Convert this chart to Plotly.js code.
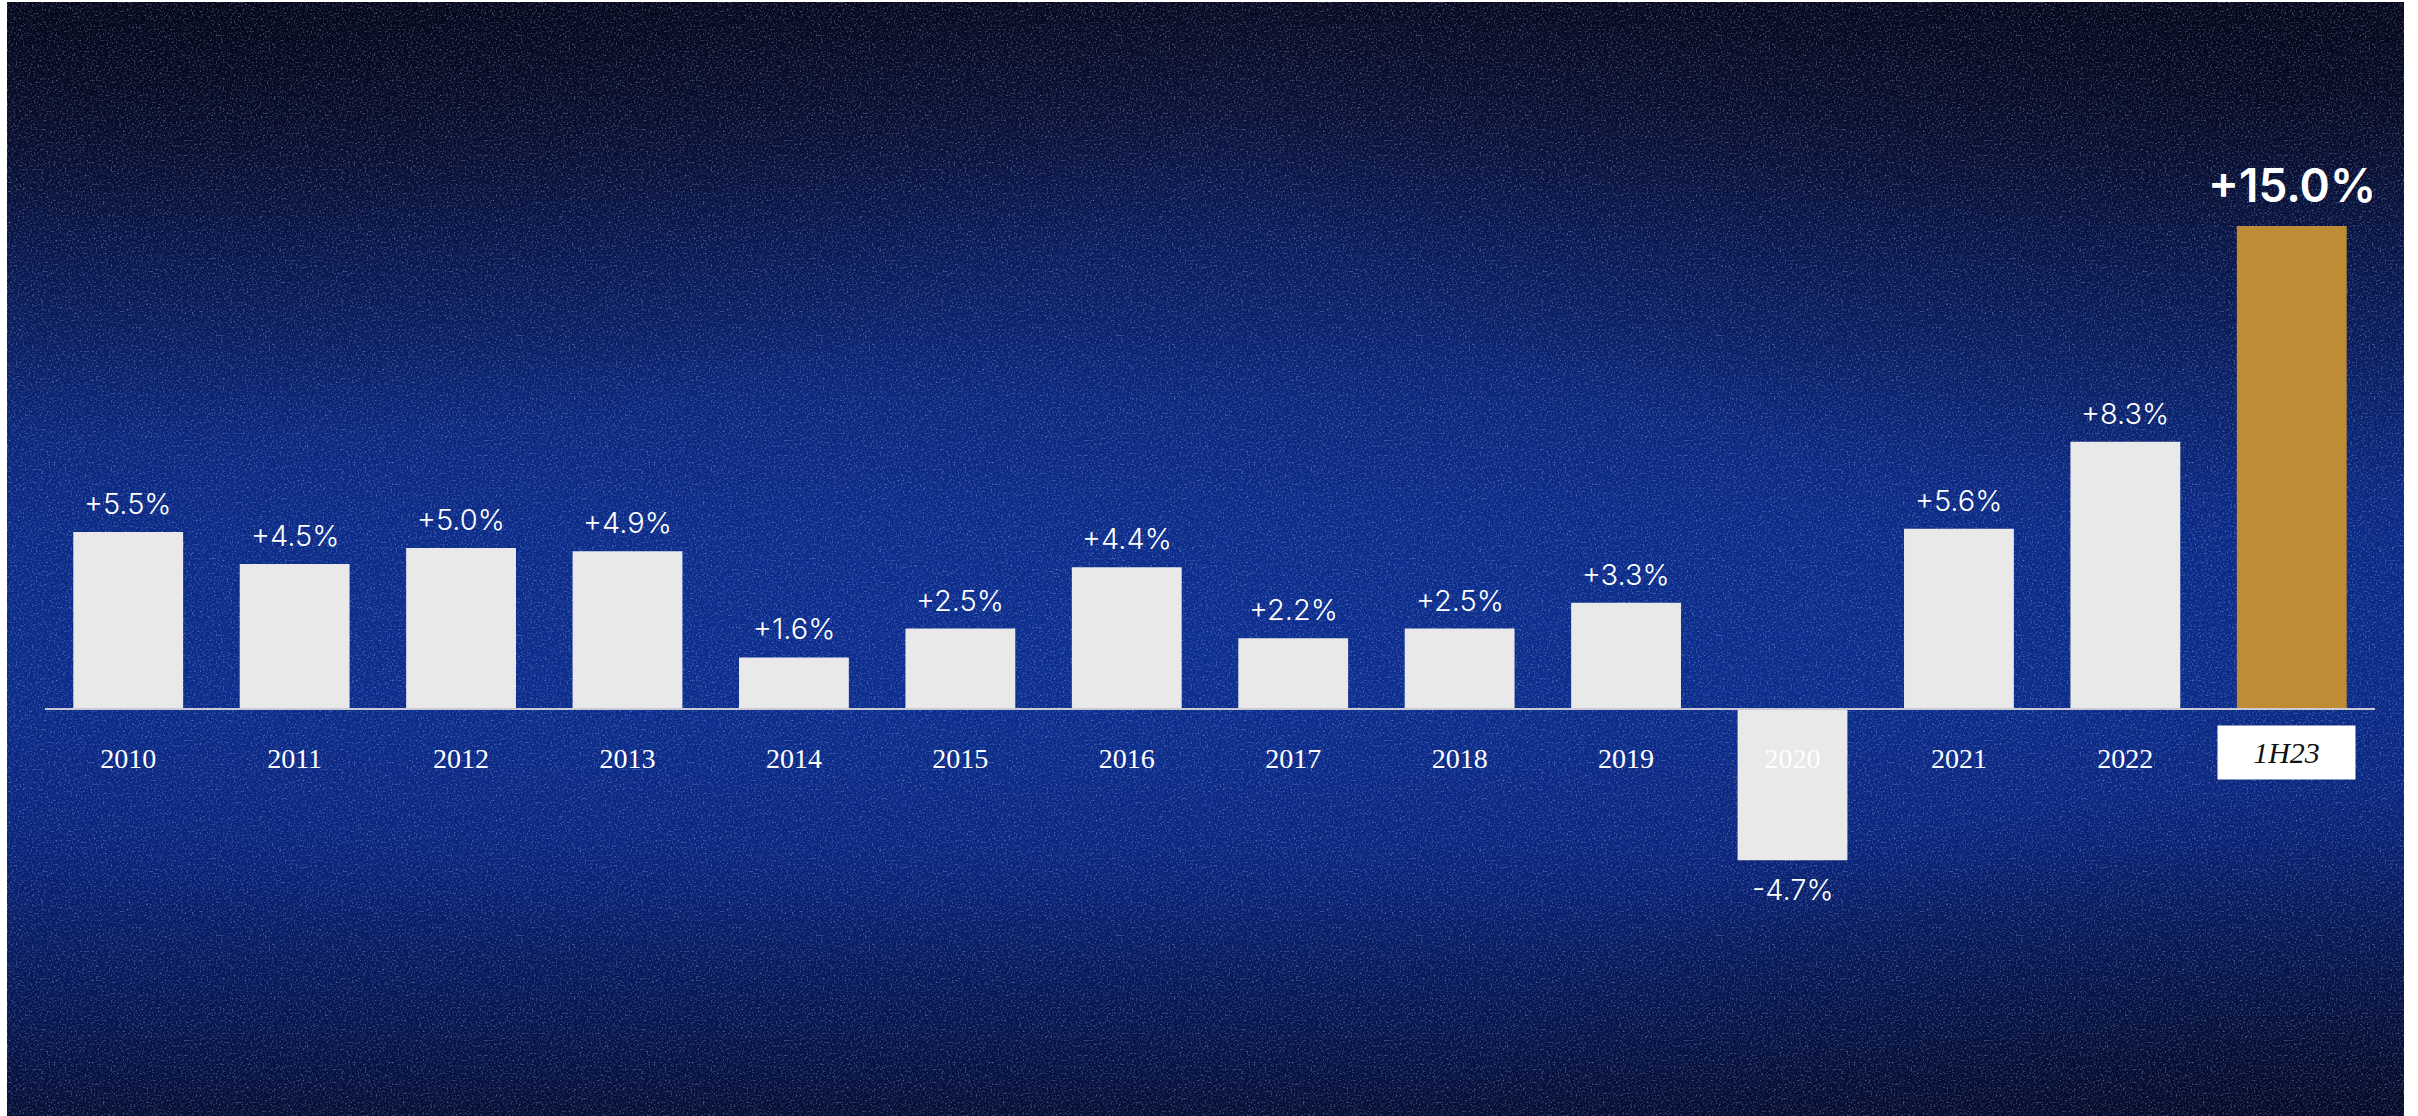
<!DOCTYPE html>
<html>
<head>
<meta charset="utf-8">
<script src="https://cdn.plot.ly/plotly-3.0.1.min.js"></script>
<style>
  html, body { margin: 0; padding: 0; background: #ffffff; width: 2418px; height: 1116px; overflow: hidden; }
  #bg {
    position: absolute; left: 7px; top: 2px; width: 2397px; height: 1114px;
    background:
      radial-gradient(ellipse 60% 30% at 45% 58%, rgba(14,50,150,0.55) 0%, rgba(12,46,140,0.0) 100%),
      linear-gradient(180deg, #080b22 0%, #0a1238 10%, #0b1d5e 22%, #0c2676 34%, #0b2a85 48%, #0b2b88 62%, #0a2479 76%, #081a5a 88%, #060f36 100%);
  }
  #bg::after {
    content: ""; position: absolute; inset: 0;
    background:
      radial-gradient(ellipse 45% 40% at 8% 0%, rgba(4,6,20,0.6) 0%, rgba(4,6,20,0) 100%),
      radial-gradient(ellipse 45% 40% at 95% 5%, rgba(4,6,20,0.55) 0%, rgba(4,6,20,0) 100%),
      radial-gradient(ellipse 40% 30% at 100% 100%, rgba(4,6,20,0.45) 0%, rgba(4,6,20,0) 100%);
  }
  #noise {
    position: absolute; left: 7px; top: 2px; width: 2397px; height: 1114px; opacity: 0.45;
    background-image: url("data:image/svg+xml;utf8,<svg xmlns='http://www.w3.org/2000/svg' width='300' height='300'><filter id='n'><feTurbulence type='fractalNoise' baseFrequency='0.55' numOctaves='3' stitchTiles='stitch'/><feColorMatrix values='0 0 0 0 0.5  0 0 0 0 0.6  0 0 0 0 1  2.6 0 0 0 -1.35'/></filter><rect width='100%' height='100%' filter='url(%23n)'/></svg>");
  }
  #chart { position: absolute; left: 0; top: 0; width: 2418px; height: 1116px; }
</style>
</head>
<body>
<div id="bg"></div>
<div id="noise"></div>
<div id="chart"></div>
<script>
// ---- data ----
const categories = ['2010','2011','2012','2013','2014','2015','2016','2017','2018','2019','2020','2021','2022','1H23'];
const growthPct  = [5.5, 4.5, 5.0, 4.9, 1.6, 2.5, 4.4, 2.2, 2.5, 3.3, -4.7, 5.6, 8.3, 15.0];
const valueLabels = ['+5.5%','+4.5%','+5.0%','+4.9%','+1.6%','+2.5%','+4.4%','+2.2%','+2.5%','+3.3%','-4.7%','+5.6%','+8.3%','+15.0%'];
const highlightCategory = '1H23';

// ---- styles ----
const barColors = categories.map(c => c === highlightCategory ? '#be8c34' : '#e9e9ea');

const bars = {
  type: 'bar',
  x: categories,
  y: growthPct,
  marker: { color: barColors, line: { width: 0 } },
  hoverinfo: 'skip'
};

// annotations use the category index (numeric-looking category strings would be read as indices)
const annotations = categories.map((c, i) => {
  const v = growthPct[i];
  const isHi = c === highlightCategory;
  return {
    x: i, y: v, xref: 'x', yref: 'y',
    text: valueLabels[i],
    showarrow: false,
    yanchor: v >= 0 ? 'bottom' : 'top',
    yshift: v >= 0 ? (isHi ? 11 : 9) : -10,
    font: isHi
      ? { family: 'Inter, Lato, sans-serif', size: 46, color: '#ffffff', weight: 600 }
      : { family: 'Inter, Lato, sans-serif', size: 29, color: '#ffffff', weight: 300 }
  };
});

// highlighted category label box
annotations.push({
  x: categories.indexOf(highlightCategory), y: 0, xref: 'x', yref: 'y',
  text: highlightCategory,
  showarrow: false,
  yanchor: 'middle', xanchor: 'center',
  yshift: -43, xshift: -5,
  width: 137, height: 53,
  bgcolor: '#ffffff', borderpad: 0,
  font: { family: 'Liberation Serif, DejaVu Serif, serif', size: 30, color: '#111111', style: 'italic' }
});

const layout = {
  width: 2418, height: 1116,
  margin: { l: 45, r: 43, t: 65, b: 85 },
  paper_bgcolor: 'rgba(0,0,0,0)',
  plot_bgcolor: 'rgba(0,0,0,0)',
  showlegend: false,
  bargap: 0.34,
  xaxis: {
    type: 'category',
    range: [-0.5, 13.5],
    anchor: 'free', position: 1/3,
    showline: true, linecolor: '#c8cbd6', linewidth: 2,
    ticks: '', showgrid: false, zeroline: false,
    tickmode: 'array',
    tickvals: categories,
    ticktext: categories.map(c => c === highlightCategory ? '' : c),
    ticklabelstandoff: 24,
    tickfont: { family: 'Liberation Serif, DejaVu Serif, serif', size: 28, color: '#ffffff' },
    fixedrange: true
  },
  yaxis: {
    range: [-10, 20],
    domain: [0, 1],
    visible: false,
    showgrid: false, zeroline: false,
    fixedrange: true
  },
  annotations: annotations
};

Plotly.newPlot('chart', [bars], layout, { displayModeBar: false, staticPlot: true });
</script>
</body>
</html>
